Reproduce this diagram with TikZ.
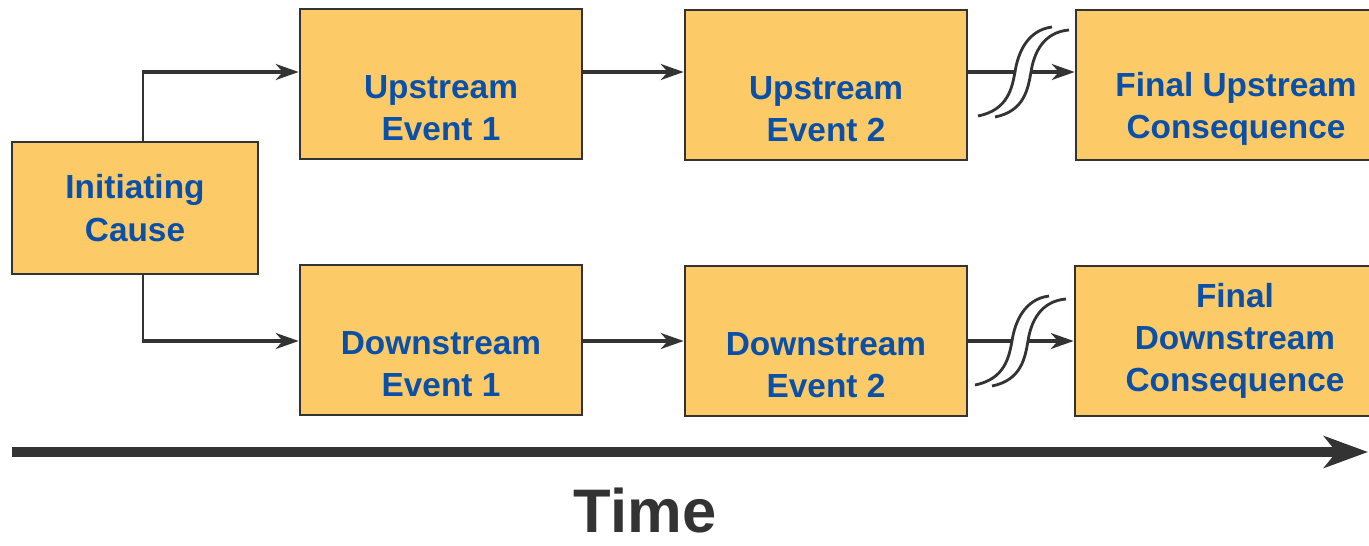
\documentclass[tikz,border=0pt]{standalone}
\usepackage{fontspec}
\setmainfont{Liberation Sans}
\usetikzlibrary{arrows.meta}

\definecolor{boxfill}{HTML}{FCCA66}
\definecolor{boxtext}{HTML}{0A50A8}
\definecolor{linegray}{HTML}{333333}

\tikzset{
  evbox/.style={draw=linegray, line width=1.5pt, fill=boxfill, text=boxtext,
    font=\fontsize{19}{24}\selectfont\bfseries, align=center,
    minimum width=5.64cm, minimum height=3cm, inner sep=0pt},
  flow/.style={draw=linegray, line width=2.6pt,
    -{Stealth[length=13pt,width=9pt,inset=4pt]}},
  riser/.style={draw=linegray, line width=1.4pt},
  brk/.style={draw=linegray, line width=1.6pt},
}

% break mark across a connector
\newcommand{\brkmark}[1]{%
  \begin{scope}[shift={(#1)}]
    \fill[white] (-45,44) .. controls (-15,38) and (-11,16) .. (-8,0)
      .. controls (-5,-20) and (5,-42) .. (29,-45) -- (46,-42)
      .. controls (21,-40) and (11,-20) .. (8,0)
      .. controls (5,16) and (2,39) .. (-28,45) -- cycle;
    \draw[brk] (-45,44) .. controls (-15,38) and (-11,16) .. (-8,0)
      .. controls (-5,-20) and (5,-42) .. (29,-45);
    \draw[brk] (-28,45) .. controls (2,39) and (5,16) .. (8,0)
      .. controls (11,-20) and (21,-40) .. (46,-42);
  \end{scope}}

\begin{document}
\begin{tikzpicture}[x=0.02cm,y=-0.02cm]
\useasboundingbox (0,0) rectangle (1369,545);

\coordinate (splitx) at (143,0);
\coordinate (upy) at (0,72);
\coordinate (dny) at (0,341);

\node[evbox, minimum width=4.92cm, minimum height=2.64cm] (ic) at (135,208) {Initiating\\Cause};

\node[evbox] (ue1) at (441,84) {\strut\\Upstream\\Event 1};
\node[evbox] (ue2) at (826,85) {\strut\\Upstream\\Event 2};
\node[evbox, minimum width=6.4cm] (fu) at (1236,85) {\strut\\Final Upstream\\Consequence};

\node[evbox] (de1) at (441,340) {\strut\\Downstream\\Event 1};
\node[evbox] (de2) at (826,341) {\strut\\Downstream\\Event 2};
\node[evbox, minimum width=6.4cm] (fd) at (1235,341) {Final\\Downstream\\Consequence};

\coordinate (upcorner) at (splitx |- upy);
\coordinate (dncorner) at (splitx |- dny);
\draw[riser] (ic.north -| splitx) -- (upcorner);
\draw[riser] (ic.south -| splitx) -- (dncorner);
\draw[flow] ([xshift=-0.7pt]upcorner) -- (ue1.west |- upy);
\draw[flow] ([xshift=-0.7pt]dncorner) -- (de1.west |- dny);

\draw[flow] (ue1.east |- upy) -- (ue2.west |- upy);
\draw[flow] (ue2.east |- upy) -- (fu.west |- upy);
\draw[flow] (de1.east |- dny) -- (de2.west |- dny);
\draw[flow] (de2.east |- dny) -- (fd.west |- dny);

\brkmark{1023,72}
\brkmark{1020,341}

% time axis
\coordinate (tstart) at (12,452);
\coordinate (tend) at (1368,452);
\draw[linegray, line width=5.5pt, -{Stealth[length=25pt,width=18pt,inset=7pt]}] (tstart) -- (tend);
\node[text=linegray, inner sep=0pt, font=\fontsize{35}{40}\selectfont\bfseries] (time) at (645,511) {Time};
\end{tikzpicture}
\end{document}
